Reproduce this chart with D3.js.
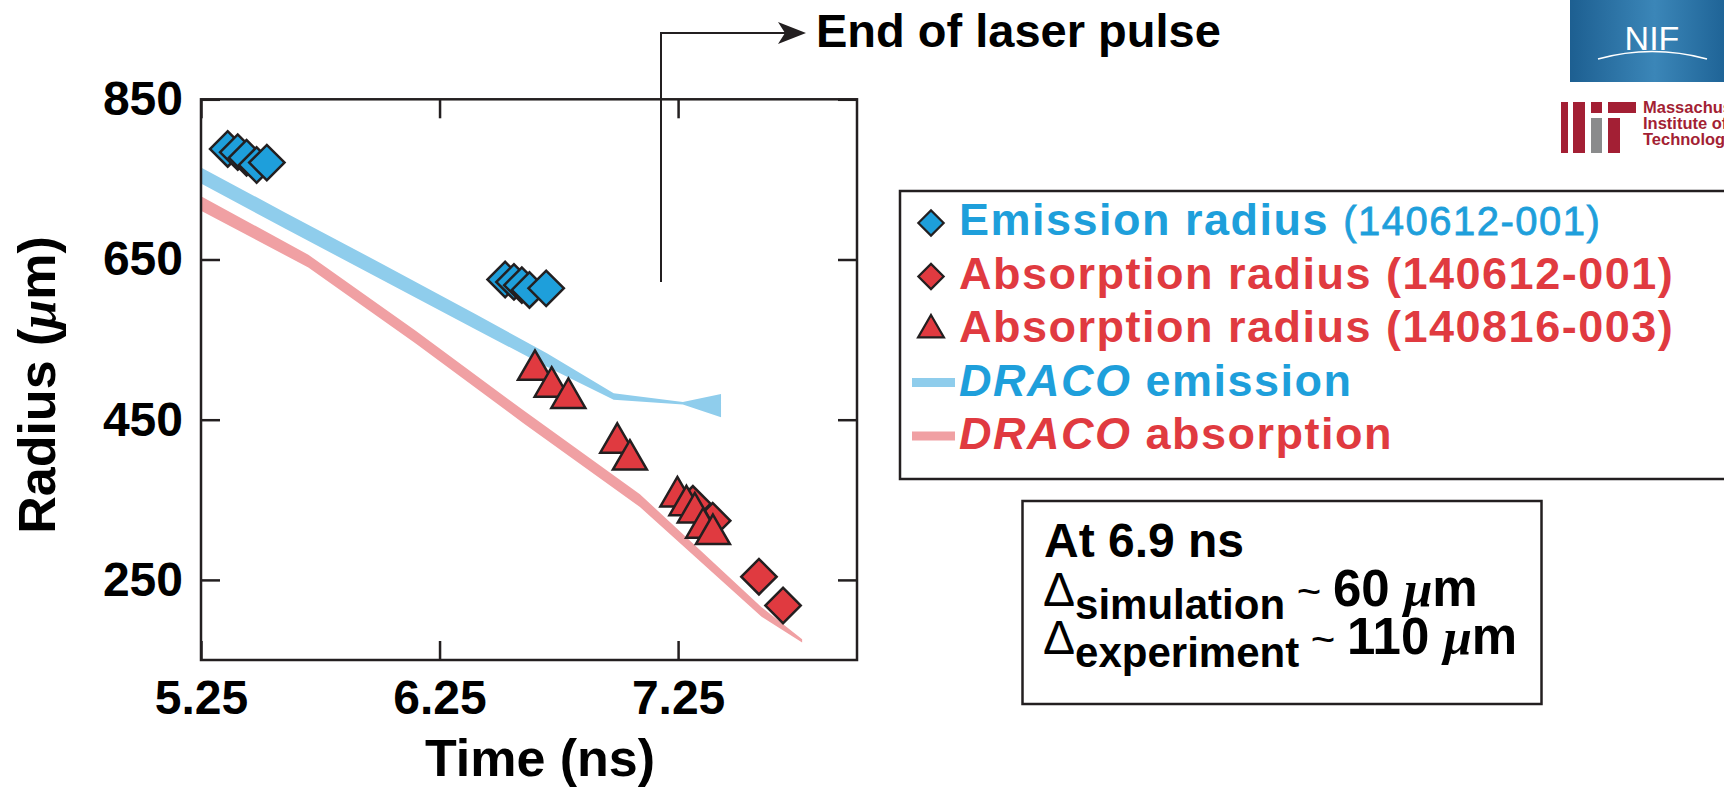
<!DOCTYPE html>
<html lang="en">
<head>
<meta charset="UTF-8">
<title>Emission and absorption radius</title>
<script src="https://d3js.org/d3.v7.min.js"></script>
<style>
    body { margin: 0; background: #fff; }
    svg text { font-family: "Liberation Sans", Arial, Helvetica, sans-serif; }
</style>
</head>
<body>
<svg id="chart" width="1724" height="790"></svg>
<script>
    // values
    var xTicks = [5.25, 6.25, 7.25];
    var yTicks = [250, 450, 650, 850];

    // emission radius, shot 140612-001 (blue diamonds)
    var emisTime = [5.362, 5.404, 5.441, 5.483, 5.526, 6.525, 6.562, 6.595, 6.627, 6.697];
    var emisRad = [788, 784, 777, 768, 771, 625, 622, 618, 612, 614];

    // absorption radius, shot 140612-001 (red diamonds)
    var absDTime = [7.312, 7.395, 7.589, 7.69];
    var absDRad = [345, 324, 254, 218];

    // absorption radius, shot 140816-003 (red triangles)
    var absTTime = [6.65, 6.72, 6.79, 6.995, 7.048, 7.247, 7.285, 7.32, 7.355, 7.396];
    var absTRad = [512, 491, 477, 421, 400, 354, 343, 334, 315, 307];

    // DRACO emission band (upper / lower edge)
    var dracoETime = [5.25, 5.60, 6.00, 6.40, 6.70, 6.98, 7.27, 7.43];
    var dracoEHigh = [765, 709, 646, 582, 533, 483, 472, 482];
    var dracoELow = [745, 689, 626, 563, 516, 475, 469, 453];

    // DRACO absorption band (upper / lower edge)
    var dracoATime = [5.25, 5.70, 6.15, 6.60, 7.09, 7.60, 7.77];
    var dracoAHigh = [729, 656, 561, 462, 357, 216, 176];
    var dracoALow = [711, 640, 545, 446, 341, 204, 172];

    var blue = "#1e9fdb", red = "#e03a40";
    var lightBlue = "#8fcdec", lightRed = "#f0a0a3";
    var ink = "#231f20";

    var svg = d3.select("#chart");

    var pLeft = 201, pRight = 857, pTop = 99.3, pBottom = 660;

    var x = d3.scaleLinear().domain([5.25, 8.0]).range([pLeft, pRight]);
    var y = d3.scaleLinear().domain([150, 850]).range([pBottom, pTop]);

    // bands
    function band(ts, hi, lo) {
        return d3.area()
            .x(function (d, i) { return x(ts[i]); })
            .y0(function (d, i) { return y(lo[i]); })
            .y1(function (d, i) { return y(hi[i]); })(ts);
    }
    svg.append("path").attr("d", band(dracoETime, dracoEHigh, dracoELow)).style("fill", lightBlue);
    svg.append("path").attr("d", band(dracoATime, dracoAHigh, dracoALow)).style("fill", lightRed);

    // axes with inner ticks
    var g = svg.append("g").attr("class", "axes");
    g.append("g").attr("transform", "translate(" + pLeft + ",0)")
        .call(d3.axisLeft(y).tickValues(yTicks).tickSizeInner(-19).tickSizeOuter(0).tickPadding(18));
    g.append("g").attr("transform", "translate(" + pRight + ",0)")
        .call(d3.axisRight(y).tickValues(yTicks).tickSizeInner(-19).tickSizeOuter(0).tickFormat(""));
    g.append("g").attr("transform", "translate(0," + pBottom + ")")
        .call(d3.axisBottom(x).tickValues(xTicks).tickSizeInner(-19).tickSizeOuter(0).tickPadding(20)
            .tickFormat(d3.format(".2f")));
    g.append("g").attr("transform", "translate(0," + pTop + ")")
        .call(d3.axisTop(x).tickValues(xTicks).tickSizeInner(-19).tickSizeOuter(0).tickFormat(""));
    g.selectAll(".domain").remove();
    g.selectAll(".tick line").style("stroke", ink).style("stroke-width", 2.5);
    g.selectAll(".tick text").style("font-size", "48px").style("font-weight", "bold")
        .style("fill", "#000").style("font-family", "'Liberation Sans', Arial, sans-serif");

    svg.append("rect")
        .attr("x", pLeft).attr("y", pTop)
        .attr("width", pRight - pLeft).attr("height", pBottom - pTop)
        .style("fill", "none").style("stroke", ink).style("stroke-width", 2.5);

    // axis titles
    svg.append("text")
        .attr("x", 540).attr("y", 776)
        .attr("text-anchor", "middle")
        .style("font-size", "52px").style("font-weight", "bold")
        .text("Time (ns)");

    var yt = svg.append("text")
        .attr("transform", "translate(55,385) rotate(-90)")
        .attr("text-anchor", "middle")
        .style("font-size", "52px").style("font-weight", "bold");
    yt.append("tspan").text("Radius (");
    yt.append("tspan").style("font-family", "'Liberation Serif', serif").style("font-style", "italic").text("\u03bc");
    yt.append("tspan").text("m)");

    // markers
    var diamond = d3.symbol().type(d3.symbolSquare).size(625);
    var triangle = d3.symbol().type(d3.symbolTriangle).size(500);

    svg.append("g").selectAll("path").data(emisTime).enter().append("path")
        .attr("d", diamond)
        .attr("transform", function (d, i) { return "translate(" + x(d) + "," + y(emisRad[i]) + ") rotate(45)"; })
        .style("fill", blue).style("stroke", ink).style("stroke-width", 2.5);

    svg.append("g").selectAll("path").data(absDTime).enter().append("path")
        .attr("d", diamond)
        .attr("transform", function (d, i) { return "translate(" + x(d) + "," + y(absDRad[i]) + ") rotate(45)"; })
        .style("fill", red).style("stroke", ink).style("stroke-width", 2.5);

    svg.append("g").selectAll("path").data(absTTime).enter().append("path")
        .attr("d", triangle)
        .attr("transform", function (d, i) { return "translate(" + x(d) + "," + y(absTRad[i]) + ")"; })
        .style("fill", red).style("stroke", ink).style("stroke-width", 2.5);

    // end of laser pulse annotation
    svg.append("path")
        .attr("d", "M661,282V33H790")
        .style("fill", "none").style("stroke", ink).style("stroke-width", 2);
    svg.append("path")
        .attr("d", "M806,33L778,22L785,33L778,44Z")
        .style("fill", ink);
    svg.append("text")
        .attr("x", 816).attr("y", 47)
        .style("font-size", "47px").style("font-weight", "bold")
        .text("End of laser pulse");

    // legend
    var lg = svg.append("g");
    lg.append("rect")
        .attr("x", 900).attr("y", 191).attr("width", 880).attr("height", 288)
        .style("fill", "none").style("stroke", ink).style("stroke-width", 2.5);

    var rowY = [235, 288.5, 342, 395.5, 449];
    var legDiamond = d3.symbol().type(d3.symbolSquare).size(320);
    var legTriangle = d3.symbol().type(d3.symbolTriangle).size(290);
    var mx = 931, tx = 959;

    lg.append("path").attr("d", legDiamond)
        .attr("transform", "translate(" + mx + "," + (rowY[0] - 12) + ") rotate(45)")
        .style("fill", blue).style("stroke", ink).style("stroke-width", 2.2);
    lg.append("path").attr("d", legDiamond)
        .attr("transform", "translate(" + mx + "," + (rowY[1] - 12) + ") rotate(45)")
        .style("fill", red).style("stroke", ink).style("stroke-width", 2.2);
    lg.append("path").attr("d", legTriangle)
        .attr("transform", "translate(" + mx + "," + (rowY[2] - 12) + ")")
        .style("fill", red).style("stroke", ink).style("stroke-width", 2.2);
    lg.append("line").attr("x1", 912).attr("x2", 955)
        .attr("y1", rowY[3] - 13).attr("y2", rowY[3] - 13)
        .style("stroke", lightBlue).style("stroke-width", 9);
    lg.append("line").attr("x1", 912).attr("x2", 955)
        .attr("y1", rowY[4] - 13).attr("y2", rowY[4] - 13)
        .style("stroke", lightRed).style("stroke-width", 9);

    function legText(yy, color) {
        return lg.append("text").attr("x", tx).attr("y", yy)
            .style("font-size", "45px").style("font-weight", "bold")
            .style("letter-spacing", "1.5px").style("fill", color);
    }
    var t1 = legText(rowY[0], blue);
    t1.append("tspan").text("Emission radius ");
    t1.append("tspan").style("font-weight", "normal").style("font-size", "40px")
        .style("stroke", blue).style("stroke-width", 0.8).text("(140612-001)");
    legText(rowY[1], red).text("Absorption radius (140612-001)");
    legText(rowY[2], red).text("Absorption radius (140816-003)");
    var t4 = legText(rowY[3], blue);
    t4.append("tspan").style("font-style", "italic").text("DRACO");
    t4.append("tspan").text(" emission");
    var t5 = legText(rowY[4], red);
    t5.append("tspan").style("font-style", "italic").text("DRACO");
    t5.append("tspan").text(" absorption");

    // comparison box
    var cb = svg.append("g");
    cb.append("rect")
        .attr("x", 1022.5).attr("y", 501).attr("width", 519).attr("height", 203)
        .style("fill", "none").style("stroke", ink).style("stroke-width", 2.5);
    cb.append("text").attr("x", 1044).attr("y", 557)
        .style("font-size", "48px").style("font-weight", "bold")
        .text("At 6.9 ns");

    function deltaLine(yy, sub, val) {
        var t = cb.append("text").attr("x", 1043).attr("y", yy).style("font-size", "48px");
        t.append("tspan").text("\u0394");
        t.append("tspan").attr("dy", 13).style("font-size", "42px").style("font-weight", "bold").text(sub);
        t.append("tspan").attr("dy", -13).style("font-size", "42px").text(" ~ ");
        t.append("tspan").style("font-size", "51px").style("font-weight", "bold").text(val + " ");
        t.append("tspan").style("font-size", "51px").style("font-family", "'Liberation Serif', serif")
            .style("font-style", "italic").style("font-weight", "bold").text("\u03bc");
        t.append("tspan").style("font-size", "51px").style("font-weight", "bold").text("m");
    }
    deltaLine(606, "simulation", "60");
    deltaLine(654, "experiment", "110");

    // logos, top right
    var defs = svg.append("defs");
    var grad = defs.append("linearGradient").attr("id", "nifGrad").attr("x1", 0).attr("x2", 1).attr("y1", 0).attr("y2", 0);
    grad.append("stop").attr("offset", "0%").attr("stop-color", "#1d5f91");
    grad.append("stop").attr("offset", "55%").attr("stop-color", "#3b86b8");
    grad.append("stop").attr("offset", "100%").attr("stop-color", "#1f6497");
    svg.append("rect").attr("x", 1570).attr("y", 0).attr("width", 154).attr("height", 82)
        .style("fill", "url(#nifGrad)");
    svg.append("text").attr("x", 1652).attr("y", 50).attr("text-anchor", "middle")
        .style("font-size", "34px").style("fill", "#fff").text("NIF");
    svg.append("path").attr("d", "M1598,59Q1652,44 1707,59")
        .style("fill", "none").style("stroke", "#fff").style("stroke-width", 1.5);

    var mitRed = "#a31f34", mitGray = "#8a8b8c";
    var bars = [
        [1561, 102, 7, 51, mitRed],
        [1573, 102, 12, 51, mitRed],
        [1591, 102, 11, 11, mitRed],
        [1591, 118, 11, 35, mitGray],
        [1608, 102, 28, 11, mitRed],
        [1608, 118, 12, 35, mitRed]
    ];
    svg.append("g").selectAll("rect").data(bars).enter().append("rect")
        .attr("x", function (d) { return d[0]; }).attr("y", function (d) { return d[1]; })
        .attr("width", function (d) { return d[2]; }).attr("height", function (d) { return d[3]; })
        .style("fill", function (d) { return d[4]; });
    var mitLines = ["Massachusetts", "Institute of", "Technology"];
    svg.append("g").selectAll("text").data(mitLines).enter().append("text")
        .attr("x", 1643).attr("y", function (d, i) { return 113 + i * 16; })
        .style("font-size", "16.5px").style("font-weight", "bold").style("fill", mitRed)
        .text(function (d) { return d; });
</script>
</body>
</html>
